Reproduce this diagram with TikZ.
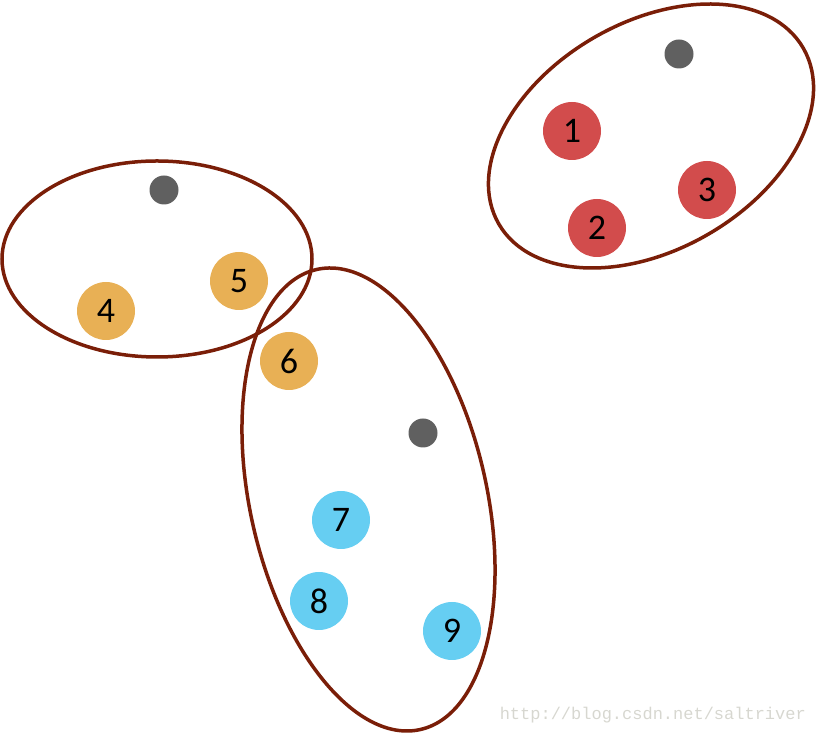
\documentclass[tikz,border=0pt]{standalone}
\usepackage{fontspec}
\setmainfont{Carlito}
\newfontfamily\wmfont{Liberation Mono}
\definecolor{ringc}{RGB}{122,30,8}
\definecolor{redc}{RGB}{210,76,76}
\definecolor{orangec}{RGB}{232,176,85}
\definecolor{bluec}{RGB}{102,206,242}
\definecolor{grayc}{RGB}{96,96,96}
\definecolor{wmc}{RGB}{215,215,208}
\tikzset{
  pt/.style={circle, minimum size=58pt, inner sep=0pt, font=\fontsize{36}{36}\selectfont},
  redpt/.style={pt, fill=redc},
  orpt/.style={pt, fill=orangec},
  blpt/.style={pt, fill=bluec},
  cent/.style={circle, fill=grayc, minimum size=29pt, inner sep=0pt},
  ring/.style={draw=ringc, line width=3.5pt}
}
\begin{document}
\begin{tikzpicture}[x=1pt,y=1pt]
\useasboundingbox (0,0) rectangle (816,735);
% clusters
\draw[ring] (157,476) ellipse [x radius=155, y radius=98];
\draw[ring, rotate around={30:(651,599)}] (651,599) ellipse [x radius=175.8, y radius=113.7];
\draw[ring, rotate around={102.7:(368.5,235.5)}] (368.5,235.5) ellipse [x radius=235.8, y radius=118.3];
% centroids
\node[cent] (c1) at (679,681) {};
\node[cent] (c2) at (164,545) {};
\node[cent] (c3) at (423,302) {};
% points
\node[redpt] (p1) at (572,604) {1};
\node[redpt] (p2) at (597,507) {2};
\node[redpt] (p3) at (707,545) {3};
\node[orpt] (p4) at (106,424) {4};
\node[orpt] (p5) at (239,454) {5};
\node[orpt] (p6) at (289,374) {6};
\node[blpt] (p7) at (341,215) {7};
\node[blpt] (p8) at (319,134) {8};
\node[blpt] (p9) at (452,104) {9};
% watermark
\node[anchor=east, text=wmc, font=\wmfont\fontsize{17}{17}\selectfont, inner sep=0pt] (wm) at (806,20) {http://blog.csdn.net/saltriver};
\end{tikzpicture}
\end{document}
